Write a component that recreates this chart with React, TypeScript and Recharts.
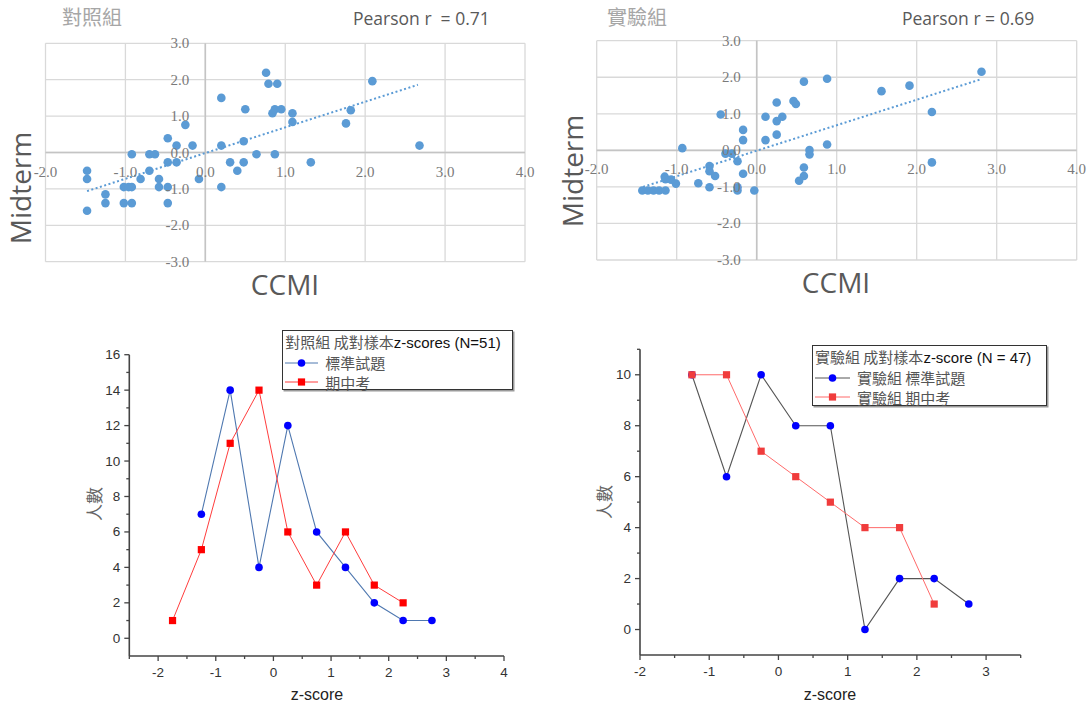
import React from "react";
import {
  ScatterChart,
  Scatter,
  LineChart,
  Line,
  XAxis,
  YAxis,
  CartesianGrid,
  ReferenceLine,
  Legend,
} from "recharts";

// ---- scatter data: [CCMI z, Midterm z] ----
const controlPairs: [number, number][] = [
  [-1.48, -0.5], [-1.48, -0.73], [-1.48, -1.6], [-1.25, -1.15], [-1.25, -1.39],
  [-1.02, -0.95], [-1.02, -1.39], [-0.96, -0.95], [-0.92, -0.95], [-0.92, -1.39],
  [-0.92, -0.05], [-0.81, -0.73], [-0.7, -0.05], [-0.63, -0.05], [-0.7, -0.5],
  [-0.58, -0.73], [-0.58, -0.95], [-0.47, -0.95], [-0.47, -1.39], [-0.47, -0.27],
  [-0.47, 0.39], [-0.36, -0.27], [-0.36, 0.19], [-0.25, 0.76], [-0.16, 0.19],
  [-0.08, -0.73], [0.2, 1.5], [0.2, 0.19], [0.2, -0.95], [0.31, -0.27],
  [0.4, -0.5], [0.48, -0.27], [0.48, 0.31], [0.5, 1.19], [0.64, -0.05],
  [0.76, 2.19], [0.79, 1.89], [0.9, 1.89], [0.84, 1.08], [0.87, 1.19],
  [0.95, 1.19], [0.87, -0.05], [1.09, 1.08], [1.09, 0.84], [1.32, -0.27],
  [1.76, 0.8], [1.82, 1.16], [2.09, 1.96], [2.68, 0.19],
];
const experimentPairs: [number, number][] = [
  [-1.43, -1.1], [-1.36, -1.1], [-1.29, -1.1], [-1.22, -1.1], [-1.14, -1.1],
  [-1.15, -0.72], [-1.14, -0.79], [-1.07, -0.8], [-1.01, -0.91], [-0.93, 0.06],
  [-0.73, -0.9], [-0.59, -1.01], [-0.59, -0.43], [-0.59, -0.57], [-0.52, -0.7],
  [-0.45, 0.98], [-0.39, -0.09], [-0.31, -0.09], [-0.24, -0.3], [-0.24, -1.1],
  [-0.24, -1.01], [-0.17, 0.56], [-0.17, 0.28], [-0.17, -0.64], [-0.03, -1.1],
  [0.11, 0.92], [0.11, 0.28], [0.25, 1.31], [0.25, 0.8], [0.25, 0.43],
  [0.32, 0.92], [0.46, 1.35], [0.49, 1.27], [0.59, 1.88], [0.59, -0.47],
  [0.59, -0.7], [0.53, -0.83], [0.66, 0.01], [0.66, -0.11], [0.88, 1.96],
  [0.88, 0.16], [1.56, 1.62], [1.91, 1.77], [2.19, 1.05], [2.19, -0.33],
  [2.81, 2.15],
];
// linear trend line end points
const controlTrend: [number, number][] = [[-1.48, -1.06], [2.66, 1.86]];
const experimentTrend: [number, number][] = [[-1.42, -1.0], [2.81, 1.95]];

const ccmiTicks = [-2, -1, 0, 1, 2, 3, 4];
const midtermTicks = [-3, -2, -1, 0, 1, 2, 3];

// ---- z-score distribution (bin centres and counts) ----
const zBins = [-1.75, -1.25, -0.75, -0.25, 0.25, 0.75, 1.25, 1.75, 2.25, 2.75];
const controlStdCounts = [null, 7, 14, 4, 12, 6, 4, 2, 1, 1];
const controlMidCounts = [1, 5, 11, 14, 6, 3, 6, 3, 2, null];
const expStdCounts = [null, 10, 6, 10, 8, 8, 0, 2, 2, 1];
const expMidCounts = [null, 10, 10, 7, 6, 5, 4, 4, 1, null];

const controlZTicks = [-2.5, -2, -1.5, -1, -0.5, 0, 0.5, 1, 1.5, 2, 2.5, 3, 3.5, 4];
const controlCountTicks = [0, 1, 2, 3, 4, 5, 6, 7, 8, 9, 10, 11, 12, 13, 14, 15, 16];
const expZTicks = [-2, -1.5, -1, -0.5, 0, 0.5, 1, 1.5, 2, 2.5, 3, 3.5];
const expCountTicks = [0, 1, 2, 3, 4, 5, 6, 7, 8, 9, 10, 11];

const CJK = '"Noto Sans CJK TC", "Noto Sans CJK SC", sans-serif';
const SANS = '"Liberation Sans", Arial, sans-serif';
const EXCEL = '"Open Sans", "Noto Sans", sans-serif';
const SCATTER_BLUE = "#5b9bd5";
const AXIS_W = 30; // width given to the y axes / height to the x axes

const toSeries = (counts: (number | null)[]) =>
  zBins
    .map((z, i) => ({ z, n: counts[i] }))
    .filter((d) => d.n !== null);

type Margin = { top: number; right: number; bottom: number; left: number };

function CorrelationPanel({
  pairs,
  trend,
  left,
  width,
  plot,
}: {
  pairs: [number, number][];
  trend: [number, number][];
  left: number;
  width: number;
  plot: Margin; // distances of the plot area from the chart edges
}) {
  const height = 300;
  const plotW = width - plot.left - plot.right;
  const plotH = height - plot.top - plot.bottom;
  const zeroX = plot.left + (plotW * 2) / 6;
  const zeroY = plot.top + (plotH * 3) / 6;
  const points = pairs.map(([x, y]) => ({ x, y }));
  const trendPoints = trend.map(([x, y]) => ({ x, y }));
  const labelStyle = {
    fontFamily: '"Liberation Serif", serif',
    fontSize: 15,
    fill: "#7a7a7a",
  };
  return (
    <div style={{ position: "absolute", left, top: 0 }}>
      <ScatterChart
        width={width}
        height={height}
        margin={{
          top: plot.top,
          right: plot.right,
          bottom: plot.bottom - AXIS_W,
          left: plot.left - AXIS_W,
        }}
      >
        <CartesianGrid stroke="#d9d9d9" strokeWidth={1.3} />
        <XAxis
          type="number"
          dataKey="x"
          domain={[-2, 4]}
          ticks={ccmiTicks}
          interval={0}
          height={AXIS_W}
          axisLine={false}
          tickLine={false}
          tickSize={0}
          tickMargin={0}
          tick={(p: any) => (
            <text x={p.x} y={zeroY + 19} textAnchor="middle" dominantBaseline="central" style={labelStyle}>
              {Number(p.payload.value).toFixed(1)}
            </text>
          )}
        />
        <YAxis
          type="number"
          dataKey="y"
          domain={[-3, 3]}
          ticks={midtermTicks}
          interval={0}
          width={AXIS_W}
          axisLine={false}
          tickLine={false}
          tickSize={0}
          tickMargin={0}
          tick={(p: any) => (
            <text x={zeroX - 16} y={p.y} textAnchor="end" dominantBaseline="central" style={labelStyle}>
              {Number(p.payload.value).toFixed(1)}
            </text>
          )}
        />
        <ReferenceLine x={0} stroke="#c4c4c4" strokeWidth={1.6} />
        <ReferenceLine y={0} stroke="#c4c4c4" strokeWidth={1.6} />
        <Scatter
          data={points}
          isAnimationActive={false}
          shape={(p: any) => <circle cx={p.cx} cy={p.cy} r={4.3} fill={SCATTER_BLUE} />}
        />
        <Scatter
          data={trendPoints}
          isAnimationActive={false}
          line={{ stroke: SCATTER_BLUE, strokeWidth: 2, strokeDasharray: "2 2.5" }}
          shape={() => <g />}
        />
      </ScatterChart>
    </div>
  );
}

function originTick(axis: "x" | "y", isMajor: (v: number) => boolean) {
  return (p: any) => {
    const v = Number(p.payload.value);
    const major = isMajor(v);
    const len = major ? 5 : 3;
    if (axis === "y") {
      return (
        <g>
          <line x1={p.x} x2={p.x - len} y1={p.y} y2={p.y} stroke="#444" strokeWidth={1.3} />
          {major && (
            <text x={p.x - 9} y={p.y} textAnchor="end" dominantBaseline="central"
              style={{ fontFamily: SANS, fontSize: 13.5, fill: "#333" }}>
              {v}
            </text>
          )}
        </g>
      );
    }
    return (
      <g>
        <line x1={p.x} x2={p.x} y1={p.y} y2={p.y + len} stroke="#444" strokeWidth={1.3} />
        {major && (
          <text x={p.x} y={p.y + 20.5} textAnchor="middle"
            style={{ fontFamily: SANS, fontSize: 13.5, fill: "#333" }}>
            {v}
          </text>
        )}
      </g>
    );
  };
}

type LegendItem = { label: string; line: string; marker: string; shape: "circle" | "square" };

function LegendBox({
  items,
  title,
  titleLatin,
  width,
  height,
  sampleWidth,
}: {
  items: LegendItem[];
  title: string;
  titleLatin: string;
  width: number;
  height: number;
  sampleWidth: number;
}) {
  return (
    <div
      style={{
        width,
        height,
        boxSizing: "border-box",
        border: "1px solid #333",
        boxShadow: "1.5px 1.5px 0 #9a9a9a",
        background: "#fff",
        padding: "1px 2px 0 2px",
        fontSize: 15,
        lineHeight: "19.3px",
        whiteSpace: "nowrap",
        textAlign: "left",
      }}
    >
      <div>
        <span style={{ fontFamily: CJK, color: "#555" }}>{title}</span>
        <span style={{ fontFamily: SANS, color: "#111" }}>{titleLatin}</span>
      </div>
      {items.map((it, i) => (
        <div key={i} style={{ display: "flex", alignItems: "center", height: 19.3 }}>
          <svg width={sampleWidth} height={12} style={{ marginRight: 7 }}>
            <line x1={0} x2={sampleWidth} y1={6} y2={6} stroke={it.line} strokeWidth={1} />
            {it.shape === "circle" ? (
              <circle cx={sampleWidth / 2} cy={6} r={3.8} fill={it.marker} />
            ) : (
              <rect x={sampleWidth / 2 - 3.6} y={2.4} width={7.2} height={7.2} fill={it.marker} />
            )}
          </svg>
          <span style={{ fontFamily: CJK, color: "#555" }}>{it.label}</span>
        </div>
      ))}
    </div>
  );
}

function DistributionPanel({
  left,
  width,
  plot,
  zDomain,
  zTicks,
  nDomain,
  nTicks,
  stdSeries,
  midSeries,
  stdName,
  midName,
  stdLine,
  midLine,
  midMarker,
  legend,
}: any) {
  const height = 398;
  const items: LegendItem[] = [
    { label: stdName, line: stdLine, marker: "#0000ff", shape: "circle" },
    { label: midName, line: midLine, marker: midMarker, shape: "square" },
  ];
  return (
    <div style={{ position: "absolute", left, top: 310 }}>
      <LineChart
        width={width}
        height={height}
        margin={{
          top: plot.top,
          right: plot.right,
          bottom: plot.bottom - AXIS_W,
          left: plot.left - AXIS_W,
        }}
      >
        <XAxis
          type="number"
          dataKey="z"
          domain={zDomain}
          ticks={zTicks}
          interval={0}
          height={AXIS_W}
          tickSize={0}
          tickMargin={0}
          tickLine={false}
          axisLine={{ stroke: "#444", strokeWidth: 1.6 }}
          tick={originTick("x", (v) => Number.isInteger(v))}
        />
        <YAxis
          type="number"
          domain={nDomain}
          ticks={nTicks}
          interval={0}
          width={AXIS_W}
          tickSize={0}
          tickMargin={0}
          tickLine={false}
          axisLine={{ stroke: "#444", strokeWidth: 1.6 }}
          tick={originTick("y", (v) => v % 2 === 0)}
        />
        <Line
          data={stdSeries}
          dataKey="n"
          name={stdName}
          stroke={stdLine}
          strokeWidth={1.1}
          isAnimationActive={false}
          dot={(p: any) => <circle key={p.index} cx={p.cx} cy={p.cy} r={3.8} fill="#0000ff" />}
          activeDot={false}
        />
        <Line
          data={midSeries}
          dataKey="n"
          name={midName}
          stroke={midLine}
          strokeWidth={1}
          isAnimationActive={false}
          dot={(p: any) => (
            <rect key={p.index} x={p.cx - 3.6} y={p.cy - 3.6} width={7.2} height={7.2} fill={midMarker} />
          )}
          activeDot={false}
        />
        <Legend
          layout="horizontal"
          verticalAlign="middle"
          align="center"
          wrapperStyle={{ left: legend.left, top: legend.top, width: legend.width, height: legend.height }}
          content={() => (
            <LegendBox
              items={items}
              title={legend.title}
              titleLatin={legend.titleLatin}
              width={legend.width}
              height={legend.height}
              sampleWidth={legend.sample}
            />
          )}
        />
      </LineChart>
    </div>
  );
}

export default function App() {
  const grey = "#595959";
  return (
    <div
      style={{
        position: "absolute",
        left: 0,
        top: 0,
        width: 1089,
        height: 708,
        background: "#fff",
        overflow: "hidden",
      }}
    >
      <CorrelationPanel
        pairs={controlPairs}
        trend={controlTrend}
        left={0}
        width={545}
        plot={{ top: 43.3, right: 20, bottom: 38.3, left: 45.5 }}
      />
      <CorrelationPanel
        pairs={experimentPairs}
        trend={experimentTrend}
        left={545}
        width={544}
        plot={{ top: 40.7, right: 12.3, bottom: 40, left: 51.7 }}
      />
      <DistributionPanel
        left={0}
        width={545}
        plot={{ top: 44.7, right: 41, bottom: 52, left: 129.3 }}
        zDomain={[-2.5, 4]}
        zTicks={controlZTicks}
        nDomain={[-1, 16]}
        nTicks={controlCountTicks}
        stdSeries={toSeries(controlStdCounts)}
        midSeries={toSeries(controlMidCounts)}
        stdName="標準試題"
        midName="期中考"
        stdLine="#4f78b0"
        midLine="#ff3c3c"
        midMarker="#ff0000"
        legend={{
          left: 282.3,
          top: 20,
          width: 231,
          height: 60,
          sample: 33,
          title: "對照組 成對樣本",
          titleLatin: "z-scores (N=51)",
        }}
      />
      <DistributionPanel
        left={545}
        width={544}
        plot={{ top: 39.3, right: 68.3, bottom: 53, left: 95 }}
        zDomain={[-2, 3.5]}
        zTicks={expZTicks}
        nDomain={[-1, 11]}
        nTicks={expCountTicks}
        stdSeries={toSeries(expStdCounts)}
        midSeries={toSeries(expMidCounts)}
        stdName="實驗組 標準試題"
        midName="實驗組 期中考"
        stdLine="#555555"
        midLine="#ff6a6a"
        midMarker="#f03c3c"
        legend={{
          left: 267,
          top: 35,
          width: 235,
          height: 61,
          sample: 35,
          title: "實驗組 成對樣本",
          titleLatin: "z-score (N = 47)",
        }}
      />
      <svg
        width={1089}
        height={708}
        style={{ position: "absolute", left: 0, top: 0, pointerEvents: "none" }}
      >
        <text x={62} y={25} style={{ fontFamily: CJK, fontSize: 20, fill: "#a6a6a6" }}>對照組</text>
        <text x={353} y={25} style={{ fontFamily: EXCEL, fontSize: 17.5, fill: grey, whiteSpace: "pre" }}>
          Pearson r  = 0.71
        </text>
        <text x={607} y={25} style={{ fontFamily: CJK, fontSize: 20, fill: "#a6a6a6" }}>實驗組</text>
        <text x={902} y={25} style={{ fontFamily: EXCEL, fontSize: 17.5, fill: grey }}>Pearson r = 0.69</text>

        <text x={31} y={188} textAnchor="middle" transform="rotate(-90 31 188)"
          style={{ fontFamily: EXCEL, fontSize: 28, fill: grey }}>Midterm</text>
        <text x={583} y={171} textAnchor="middle" transform="rotate(-90 583 171)"
          style={{ fontFamily: EXCEL, fontSize: 28, fill: grey }}>Midterm</text>
        <text x={285} y={295} textAnchor="middle" style={{ fontFamily: EXCEL, fontSize: 28, fill: grey }}>CCMI</text>
        <text x={836} y={293} textAnchor="middle" style={{ fontFamily: EXCEL, fontSize: 28, fill: grey }}>CCMI</text>

        <text x={101} y={504} textAnchor="middle" transform="rotate(-90 101 504)"
          style={{ fontFamily: CJK, fontSize: 17, fill: "#666" }}>人數</text>
        <text x={611} y={502} textAnchor="middle" transform="rotate(-90 611 502)"
          style={{ fontFamily: CJK, fontSize: 17, fill: "#666" }}>人數</text>
        <text x={317} y={700} textAnchor="middle" style={{ fontFamily: SANS, fontSize: 16, fill: "#222" }}>z-score</text>
        <text x={830} y={700} textAnchor="middle" style={{ fontFamily: SANS, fontSize: 16, fill: "#222" }}>z-score</text>
      </svg>
    </div>
  );
}
